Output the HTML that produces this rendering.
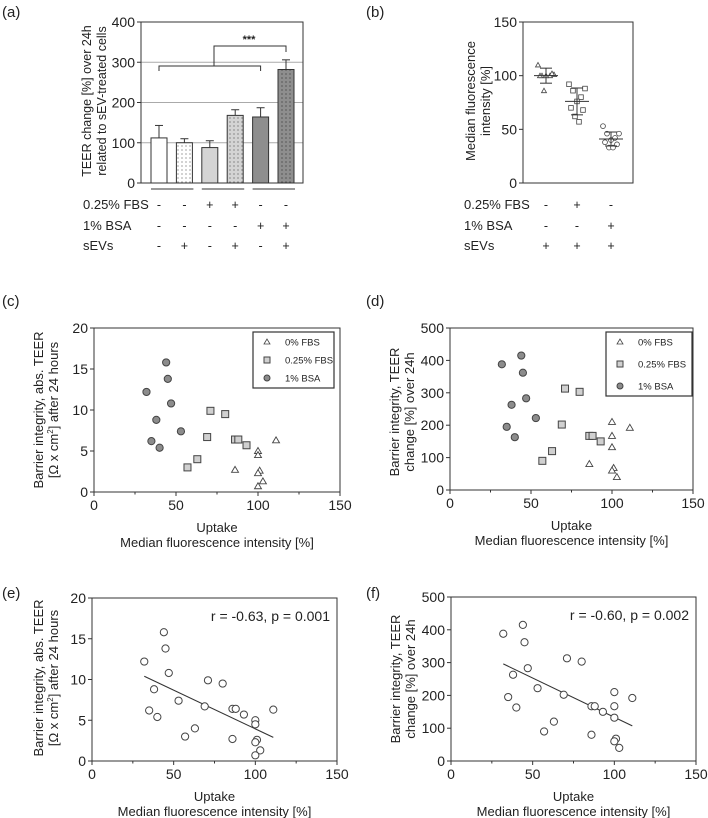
<!DOCTYPE html>
<html><head><meta charset="utf-8"><style>
body{margin:0;background:#fff;}
svg{display:block;font-family:"Liberation Sans",Arial,sans-serif;}
</style></head><body>
<svg id="fig" width="708" height="818" viewBox="0 0 708 818" xmlns="http://www.w3.org/2000/svg">
<defs>
<pattern id="dotsW" width="4" height="4" patternUnits="userSpaceOnUse"><rect width="4" height="4" fill="#fff"/><circle cx="2" cy="2" r="0.6" fill="#666"/></pattern>
<pattern id="dotsL" width="4" height="4" patternUnits="userSpaceOnUse"><rect width="4" height="4" fill="#d4d4d4"/><circle cx="2" cy="2" r="0.6" fill="#555"/></pattern>
<pattern id="dotsD" width="4" height="4" patternUnits="userSpaceOnUse"><rect width="4" height="4" fill="#8e8e8e"/><circle cx="2" cy="2" r="0.6" fill="#333"/></pattern>
</defs>
</svg>
<script>
// ---------- data ----------
const barLabels = ['ctrl','sEV','FBS','FBS+sEV','BSA','BSA+sEV'];
const barValues = [112, 100, 88, 168, 164, 282];
const barErrors = [31, 10, 17, 14, 23, 24];
const barYTicks = [0, 100, 200, 300, 400];
const rowFBS_a = ['-','-','+','+','-','-'];
const rowBSA_a = ['-','-','-','-','+','+'];
const rowSEV_a = ['-','+','-','+','-','+'];

const bGroups = ['sEV','FBS+sEV','BSA+sEV'];
const bMeans = [100, 76, 41];
const bSD = [7, 12.5, 6.5];
const bPts0 = [110, 101, 100, 100, 100, 100, 102, 86];
const bPts1 = [92, 88, 86, 80, 76, 70, 68, 62, 57];
const bPts2 = [53, 46, 46, 42, 40, 38, 36, 33, 33];
const bYTicks = [0, 50, 100, 150];
const rowFBS_b = ['-','+','-'];
const rowBSA_b = ['-','-','+'];
const rowSEV_b = ['+','+','+'];

const bsaX = [44, 45, 32, 47, 38, 53, 35, 40];
const bsaAbs = [15.8, 13.8, 12.2, 10.8, 8.8, 7.4, 6.2, 5.4];
const bsaChg = [415, 362, 388, 283, 263, 222, 195, 163];
const fbsX = [71, 80, 69, 86, 88, 93, 63, 57];
const fbsAbs = [9.9, 9.5, 6.7, 6.4, 6.4, 5.7, 4.0, 3.0];
const fbsChg = [313, 303, 202, 167, 167, 150, 120, 90];
const zeroX = [111, 100, 100, 86, 101, 100, 103, 100];
const zeroAbs = [6.3, 5.0, 4.5, 2.7, 2.6, 2.3, 1.3, 0.7];
const zeroChg = [192, 167, 210, 80, 68, 60, 40, 132];
const xTicks = [0, 50, 100, 150];
const absTicks = [0, 5, 10, 15, 20];
const chgTicks = [0, 100, 200, 300, 400, 500];
const regE = [[32, 10.4], [111, 2.9]];
const regF = [[32, 296], [111, 107]];

// ---------- helpers ----------
const NS = 'http://www.w3.org/2000/svg';
const svg = document.getElementById('fig');
function mk(tag, attrs, parent, name) {
  const el = document.createElementNS(NS, tag);
  for (const k in attrs) el.setAttribute(k, attrs[k]);
  
  
  (parent || svg).appendChild(el);
  return el;
}
function txt(x, y, s, size, anchor, parent, name, extra) {
  const t = mk('text', Object.assign({x: x, y: y, 'font-size': size, 'text-anchor': anchor || 'start', fill: '#222'}, extra || {}), parent, name);
  t.textContent = s;
  return t;
}
function lin(d0, d1, r0, r1) { return v => r0 + (v - d0) / (d1 - d0) * (r1 - r0); }
function box(x0, x1, y0, y1, g) {
  mk('rect', {x: x0, y: y0, width: x1 - x0, height: y1 - y0, fill: 'none', stroke: '#333', 'stroke-width': 1}, g, 'plot-frame');
}
function yAxis(ticks, ys, x0, g) {
  ticks.forEach(t => {
    mk('line', {x1: x0 - 4, x2: x0, y1: ys(t), y2: ys(t), stroke: '#333'}, g, 'y-tick');
    txt(x0 - 6, ys(t) + 5, String(t), 14, 'end', g, 'y-tick-label');
  });
}
function xAxis(ticks, xs, y0, g) {
  ticks.forEach(t => {
    mk('line', {x1: xs(t), x2: xs(t), y1: y0, y2: y0 + 4, stroke: '#333'}, g, 'x-tick');
    txt(xs(t), y0 + 18, String(t), 14, 'middle', g, 'x-tick-label');
  });
  for (let i = 0; i < ticks.length - 1; i++) {
    const m = (ticks[i] + ticks[i + 1]) / 2;
    mk('line', {x1: xs(m), x2: xs(m), y1: y0, y2: y0 + 2.5, stroke: '#333'}, g, 'x-minor-tick');
  }
}
function yTitle(cx, cy, l1, l2, g, fs) {
  const t = mk('text', {transform: `translate(${cx},${cy}) rotate(-90)`, 'font-size': fs || 13, 'text-anchor': 'middle', fill: '#222'}, g, 'y-axis-title');
  const a = mk('tspan', {x: 0, dy: -3}, t, 'y-title-line1'); a.textContent = l1;
  const b = mk('tspan', {x: 0, dy: 15}, t, 'y-title-line2');
  if (typeof l2 === 'string') b.textContent = l2; else l2(b);
  return t;
}
function marker(type, x, y, g, filled) {
  if (type === 'tri') mk('polygon', {points: `${x},${y - 3.5} ${x - 3.5},${y + 2.5} ${x + 3.5},${y + 2.5}`, fill: '#fff', stroke: '#444', 'stroke-width': 0.9}, g, 'triangle-point');
  else if (type === 'sq') mk('rect', {x: x - 3.5, y: y - 3.5, width: 7, height: 7, fill: filled ? '#d0d0d0' : '#fff', stroke: '#444', 'stroke-width': 1}, g, 'square-point');
  else mk('circle', {cx: x, cy: y, r: 3.6, fill: filled ? '#8c8c8c' : '#fff', stroke: '#444', 'stroke-width': 1}, g, 'circle-point');
}
function rows(labels, rowsArr, xsArr, lx, g) {
  const ys = [209, 230, 250];
  labels.forEach((l, i) => {
    txt(lx, ys[i], l, 13, 'start', g, 'row-label');
    rowsArr[i].forEach((s, j) => txt(xsArr[j], ys[i], s, 12.5, 'middle', g, 'row-mark'));
  });
}

// ---------- panel a ----------
(function () {
  const g = mk('g', {}, svg, 'panel-a');
  txt(2, 17, '(a)', 15, 'start', g, 'panel-label');
  const X0 = 141, X1 = 303, Y0 = 183, Y1 = 22;
  const ys = lin(0, 400, Y0, Y1);
  [100, 200, 300].forEach(t => mk('line', {x1: X0, x2: X1, y1: ys(t), y2: ys(t), stroke: '#aaa'}, g, 'gridline'));
  const cx = i => 159 + i * 25.4;
  const fills = ['#fff', 'url(#dotsW)', '#d4d4d4', 'url(#dotsL)', '#8e8e8e', 'url(#dotsD)'];
  barValues.forEach((v, i) => {
    const top = ys(v + barErrors[i]);
    mk('line', {x1: cx(i), x2: cx(i), y1: ys(v), y2: top, stroke: '#333'}, g, 'error-bar');
    mk('line', {x1: cx(i) - 4, x2: cx(i) + 4, y1: top, y2: top, stroke: '#333'}, g, 'error-cap');
    mk('rect', {x: cx(i) - 8, y: ys(v), width: 16, height: Y0 - ys(v), fill: fills[i], stroke: '#333', 'stroke-width': 1}, g, 'bar-' + barLabels[i]);
  });
  box(X0, X1, Y1, Y0, g);
  yAxis(barYTicks, ys, X0, g);
  [[0, 1], [2, 3], [4, 5]].forEach(p => mk('line', {x1: cx(p[0]) - 8, x2: cx(p[1]) + 9, y1: 189, y2: 189, stroke: '#333'}, g, 'group-underline'));
  mk('path', {d: `M${cx(0)},71 V66 H${cx(4)} V71`, fill: 'none', stroke: '#333'}, g, 'comparison-bracket');
  mk('path', {d: `M214,66 V46 H${cx(5)} V52`, fill: 'none', stroke: '#333'}, g, 'significance-bracket');
  txt(249, 43, '***', 11, 'middle', g, 'significance-stars', {'font-weight': 'bold'});
  yTitle(94, 101, 'TEER change [%] over 24h', 'related to sEV-treated cells', g, 12.5);
  rows(['0.25% FBS', '1% BSA', 'sEVs'], [rowFBS_a, rowBSA_a, rowSEV_a], barLabels.map((_, i) => cx(i)), 83, g);
})();

// ---------- panel b ----------
(function () {
  const g = mk('g', {}, svg, 'panel-b');
  txt(366, 17, '(b)', 15, 'start', g, 'panel-label');
  const X0 = 523, X1 = 633, Y0 = 183, Y1 = 22;
  const ys = lin(0, 150, Y0, Y1);
  const gx = [546, 577, 611];
  const pts = [bPts0, bPts1, bPts2], types = ['tri', 'sq', 'circ'];
  const jit = [-8, 8, -4, 4, 0, -6, 6, -2, 2];
  pts.forEach((arr, gi) => {
    arr.forEach((v, k) => {
      const px = gx[gi] + jit[k % jit.length], py = ys(v);
      if (types[gi] === 'tri') mk('polygon', {points: `${px},${py - 2.5} ${px - 2.5},${py + 2} ${px + 2.5},${py + 2}`, fill: '#fff', stroke: '#444', 'stroke-width': 0.8}, g, 'triangle-point');
      else if (types[gi] === 'sq') mk('rect', {x: px - 2.3, y: py - 2.3, width: 4.6, height: 4.6, fill: '#fff', stroke: '#444', 'stroke-width': 0.8}, g, 'square-point');
      else mk('circle', {cx: px, cy: py, r: 2.4, fill: '#fff', stroke: '#444', 'stroke-width': 0.8}, g, 'circle-point');
    });
    mk('line', {x1: gx[gi] - 12, x2: gx[gi] + 12, y1: ys(bMeans[gi]), y2: ys(bMeans[gi]), stroke: '#333'}, g, 'mean-line');
    mk('line', {x1: gx[gi], x2: gx[gi], y1: ys(bMeans[gi] - bSD[gi]), y2: ys(bMeans[gi] + bSD[gi]), stroke: '#333'}, g, 'sd-bar');
    [bMeans[gi] - bSD[gi], bMeans[gi] + bSD[gi]].forEach(v => mk('line', {x1: gx[gi] - 6, x2: gx[gi] + 6, y1: ys(v), y2: ys(v), stroke: '#333'}, g, 'sd-cap'));
  });
  box(X0, X1, Y1, Y0, g);
  yAxis(bYTicks, ys, X0, g);
  yTitle(478, 101, 'Median fluorescence', 'intensity [%]', g);
  rows(['0.25% FBS', '1% BSA', 'sEVs'], [rowFBS_b, rowBSA_b, rowSEV_b], gx, 464, g);
})();

// ---------- scatter panels ----------
function scatter(opt) {
  const g = mk('g', {}, svg, opt.name);
  txt(opt.lx, opt.ly, opt.label, 15, 'start', g, 'panel-label');
  const xs = lin(0, 150, opt.X0, opt.X1), ys = lin(0, opt.ymax, opt.Y0, opt.Y1);
  box(opt.X0, opt.X1, opt.Y1, opt.Y0, g);
  yAxis(opt.yt, ys, opt.X0, g);
  xAxis(xTicks, xs, opt.Y0, g);
  const cxm = (opt.X0 + opt.X1) / 2;
  txt(cxm, opt.Y0 + 40, 'Uptake', 13, 'middle', g, 'x-axis-title');
  txt(cxm, opt.Y0 + 55, 'Median fluorescence intensity [%]', 13, 'middle', g, 'x-axis-subtitle');
  yTitle(opt.tx, opt.ty, 'Barrier integrity, ' + (opt.abs ? 'abs. TEER' : 'TEER'), opt.abs ? (b => {
    b.textContent = '[Ω x cm';
    const s = mk('tspan', {'font-size': 8, dy: -5}, b, 'superscript'); s.textContent = '2';
    const r = mk('tspan', {dy: 5}, b, 'y-title-rest'); r.textContent = '] after 24 hours';
  }) : 'change [%] over 24h', g);
  const yd = opt.abs ? [zeroAbs, fbsAbs, bsaAbs] : [zeroChg, fbsChg, bsaChg];
  const xd = [zeroX, fbsX, bsaX];
  const types = ['tri', 'sq', 'circ'];
  if (opt.reg) {
    mk('line', {x1: xs(opt.reg[0][0]), y1: ys(opt.reg[0][1]), x2: xs(opt.reg[1][0]), y2: ys(opt.reg[1][1]), stroke: '#333', 'stroke-width': 1.1}, g, 'regression-line');
    txt(opt.X1 - 7, opt.Y1 + 23, opt.rtxt, 14, 'end', g, 'correlation-text');
  }
  xd.forEach((arr, si) => arr.forEach((xv, k) => {
    marker(opt.reg ? 'circ' : types[si], xs(xv), ys(yd[si][k]), g, !opt.reg);
  }));
  if (!opt.reg) {
    const L = opt.legend;
    mk('rect', {x: L[0], y: L[1], width: L[2], height: L[3], fill: '#fff', stroke: '#333', 'stroke-width': 1.2}, g, 'legend-box');
    const names = ['0% FBS', '0.25% FBS', '1% BSA'];
    names.forEach((n, i) => {
      const yy = L[1] + 10 + i * (L[3] - 20) / 2;
      const lg = mk('g', {}, g, 'legend-entry');
      if (i === 0) mk('polygon', {points: `${L[0] + 14},${yy - 3} ${L[0] + 11},${yy + 2} ${L[0] + 17},${yy + 2}`, fill: '#fff', stroke: '#444', 'stroke-width': 0.8}, lg, 'legend-marker');
      else if (i === 1) mk('rect', {x: L[0] + 11, y: yy - 3, width: 6, height: 6, fill: '#d0d0d0', stroke: '#444'}, lg, 'legend-marker');
      else mk('circle', {cx: L[0] + 14, cy: yy, r: 3, fill: '#8c8c8c', stroke: '#444'}, lg, 'legend-marker');
      txt(L[0] + 32, yy + 3.5, n, 9.5, 'start', lg, 'legend-text');
    });
  }
}
scatter({name: 'panel-c', label: '(c)', lx: 2, ly: 306, X0: 94, X1: 340, Y0: 492, Y1: 328, ymax: 20, yt: absTicks, abs: true, tx: 46, ty: 410, legend: [253, 332, 81, 56]});
scatter({name: 'panel-d', label: '(d)', lx: 366, ly: 306, X0: 450, X1: 693, Y0: 490, Y1: 328, ymax: 500, yt: chgTicks, abs: false, tx: 402, ty: 412, legend: [606, 332, 86, 64]});
scatter({name: 'panel-e', label: '(e)', lx: 2, ly: 598, X0: 92, X1: 337, Y0: 761, Y1: 598, ymax: 20, yt: absTicks, abs: true, tx: 46, ty: 678, reg: regE, rtxt: 'r = -0.63, p = 0.001'});
scatter({name: 'panel-f', label: '(f)', lx: 366, ly: 598, X0: 451, X1: 696, Y0: 761, Y1: 597, ymax: 500, yt: chgTicks, abs: false, tx: 403, ty: 679, reg: regF, rtxt: 'r = -0.60, p = 0.002'});
</script>
</body></html>
